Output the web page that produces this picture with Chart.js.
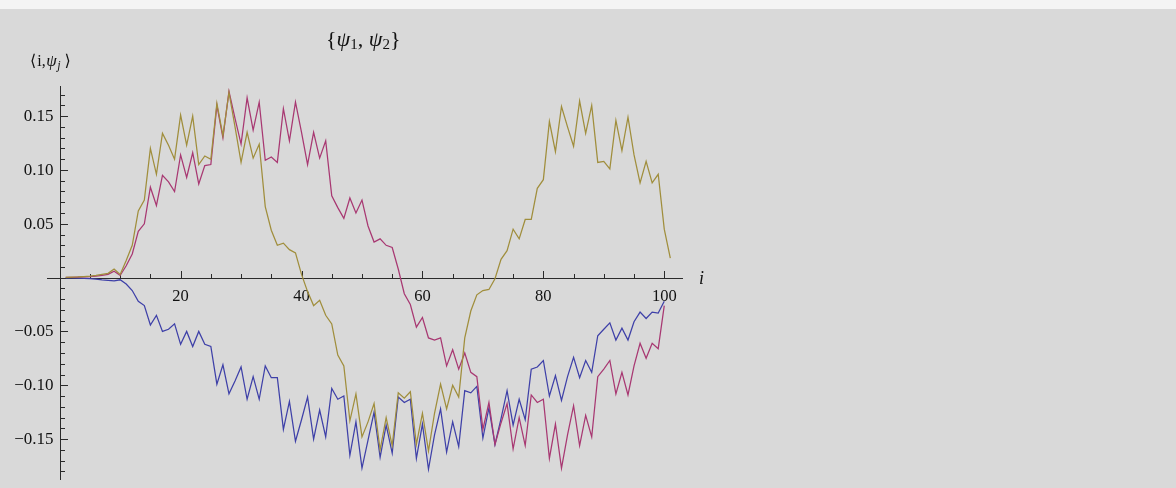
<!DOCTYPE html>
<html><head><meta charset="utf-8">
<script src="https://cdn.jsdelivr.net/npm/chart.js@4.4.1/dist/chart.umd.min.js"></script>
<style>html,body{margin:0;padding:0;background:#d9d9d9;overflow:hidden}canvas{display:block}</style>
</head><body>
<canvas id="c" width="1176" height="488"></canvas>
<script>
// ---- data (i = 1, 2, 3, ...) ----
const blueValues = [
 -0.0002,-0.0003,-0.0005,-0.0007,-0.001,-0.0013,-0.002,-0.0025,-0.003,-0.002,
 -0.006,-0.012,-0.022,-0.026,-0.044,-0.035,-0.050,-0.048,-0.043,-0.062,
 -0.050,-0.064,-0.050,-0.062,-0.064,-0.099,-0.081,-0.108,-0.096,-0.083,
 -0.113,-0.092,-0.113,-0.082,-0.093,-0.093,-0.141,-0.115,-0.152,-0.132,
 -0.111,-0.150,-0.123,-0.148,-0.103,-0.113,-0.110,-0.165,-0.134,-0.177,
 -0.151,-0.125,-0.167,-0.137,-0.163,-0.111,-0.116,-0.113,-0.168,-0.136,
 -0.178,-0.146,-0.122,-0.162,-0.134,-0.157,-0.105,-0.107,-0.101,-0.149,
 -0.121,-0.155,-0.131,-0.105,-0.137,-0.113,-0.132,-0.085,-0.083,-0.077,
 -0.110,-0.091,-0.114,-0.092,-0.074,-0.093,-0.077,-0.088,-0.054,-0.048,
 -0.042,-0.058,-0.047,-0.058,-0.041,-0.032,-0.038,-0.032,-0.033,-0.022];
const purpleValues = [
 0.0002,0.0003,0.0005,0.0008,0.001,0.0015,0.002,0.003,0.006,0.002,
 0.011,0.022,0.043,0.050,0.084,0.067,0.095,0.089,0.080,0.114,
 0.093,0.116,0.087,0.104,0.105,0.160,0.130,0.173,0.148,0.124,
 0.167,0.137,0.163,0.109,0.112,0.107,0.157,0.127,0.163,0.135,
 0.105,0.135,0.111,0.127,0.076,0.065,0.055,0.074,0.060,0.072,
 0.048,0.033,0.036,0.030,0.028,0.008,-0.015,-0.025,-0.046,-0.037,
 -0.056,-0.058,-0.056,-0.082,-0.067,-0.085,-0.070,-0.088,-0.092,-0.141,
 -0.116,-0.155,-0.135,-0.117,-0.159,-0.130,-0.156,-0.109,-0.116,-0.113,
 -0.168,-0.136,-0.177,-0.146,-0.119,-0.156,-0.128,-0.148,-0.092,-0.085,
 -0.077,-0.108,-0.088,-0.109,-0.082,-0.061,-0.075,-0.061,-0.066,-0.026];
const oliveValues = [
 0.0002,0.0004,0.0006,0.001,0.0013,0.002,0.003,0.004,0.008,0.003,
 0.016,0.030,0.062,0.072,0.120,0.096,0.134,0.123,0.110,0.151,
 0.123,0.150,0.105,0.113,0.110,0.162,0.132,0.172,0.140,0.107,
 0.135,0.111,0.124,0.066,0.044,0.030,0.032,0.026,0.023,0.003,
 -0.013,-0.026,-0.021,-0.035,-0.043,-0.072,-0.082,-0.133,-0.108,-0.148,
 -0.134,-0.117,-0.160,-0.130,-0.156,-0.107,-0.112,-0.106,-0.155,-0.126,
 -0.161,-0.126,-0.099,-0.122,-0.100,-0.111,-0.056,-0.031,-0.016,-0.012,
 -0.011,-0.001,0.017,0.025,0.045,0.036,0.054,0.054,0.083,0.091,
 0.145,0.117,0.159,0.140,0.122,0.164,0.134,0.160,0.107,0.108,
 0.101,0.146,0.118,0.149,0.114,0.088,0.108,0.088,0.096,0.045,
 0.018];

const xMajorTicks = [20, 40, 60, 80, 100];
const xTickLabels = ['20', '40', '60', '80', '100'];
const xMinorTicks = [5, 10, 15, 25, 30, 35, 45, 50, 55, 65, 70, 75, 85, 90, 95];
const yMajorTicks = [-0.15, -0.10, -0.05, 0.05, 0.10, 0.15];
const yTickLabels = ['\u22120.15', '\u22120.10', '\u22120.05', '0.05', '0.10', '0.15'];
const yMinorTicks = [-0.18,-0.17,-0.16,-0.14,-0.13,-0.12,-0.11,-0.09,-0.08,-0.07,-0.06,
  -0.04,-0.03,-0.02,-0.01,0.01,0.02,0.03,0.04,0.06,0.07,0.08,0.09,0.11,0.12,0.13,0.14,0.16,0.17];

const toPoints = arr => arr.map((v, k) => ({x: k + 1, y: v}));

const SERIF = '"Liberation Serif", "DejaVu Serif", serif';

function drawRich(c, parts, x, base) {
  let cx = x;
  parts.forEach(p => {
    c.font = p.font;
    cx += (p.pre || 0);
    c.fillText(p.t, cx, base + (p.dy || 0));
    cx += c.measureText(p.t).width + (p.kern || 0);
  });
}

const mmaAxes = {
  id: 'mmaAxes',
  beforeDraw(chart) {
    const c = chart.ctx;
    c.save();
    c.fillStyle = '#d9d9d9';
    c.fillRect(0, 0, chart.width, chart.height);
    c.fillStyle = '#f4f4f4';
    c.fillRect(0, 0, chart.width, 9);
    c.restore();
  },
  beforeDatasetsDraw(chart) {
    const c = chart.ctx, x = chart.scales.x, y = chart.scales.y, a = chart.chartArea;
    const x0 = Math.round(x.getPixelForValue(0)) + 0.5;
    const y0 = Math.round(y.getPixelForValue(0)) + 0.5;
    c.save();
    c.strokeStyle = '#2b2b2b';
    c.lineWidth = 1;
    c.beginPath();
    c.moveTo(a.left, y0); c.lineTo(a.right, y0);
    c.moveTo(x0, a.top); c.lineTo(x0, a.bottom);
    xMinorTicks.forEach(v => { const p = Math.round(x.getPixelForValue(v)) + 0.5; c.moveTo(p, y0); c.lineTo(p, y0 - 4.5); });
    xMajorTicks.forEach(v => { const p = Math.round(x.getPixelForValue(v)) + 0.5; c.moveTo(p, y0); c.lineTo(p, y0 - 7.5); });
    yMinorTicks.forEach(v => { const p = Math.round(y.getPixelForValue(v)) + 0.5; c.moveTo(x0, p); c.lineTo(x0 + 4.5, p); });
    yMajorTicks.forEach(v => { const p = Math.round(y.getPixelForValue(v)) + 0.5; c.moveTo(x0, p); c.lineTo(x0 + 7.5, p); });
    c.stroke();

    c.fillStyle = '#111';
    c.font = '16.5px ' + SERIF;
    c.textAlign = 'center';
    c.textBaseline = 'alphabetic';
    xMajorTicks.forEach((v, k) => c.fillText(xTickLabels[k], x.getPixelForValue(v), y0 + 22));
    c.font = '17px ' + SERIF;
    c.textAlign = 'right';
    c.textBaseline = 'middle';
    yMajorTicks.forEach((v, k) => c.fillText(yTickLabels[k], x0 - 7, y.getPixelForValue(v) + 0.5));

    c.textAlign = 'left';
    c.textBaseline = 'alphabetic';
    // x axis label
    c.font = 'italic 18px ' + SERIF;
    c.fillText('i', 699, y0 + 5);
    // y axis label
    drawRich(c, [
      {t: '\u27E8', font: '16px "DejaVu Serif", serif', kern: 1},
      {t: 'i,', font: '16px ' + SERIF, kern: 0.5},
      {t: '\u03C8', font: 'italic 17px ' + SERIF, kern: 0.5},
      {t: 'j', font: 'italic 12px ' + SERIF, dy: 3, kern: 4},
      {t: '\u27E9', font: '16px "DejaVu Serif", serif'}
    ], 30, 66);
    // title
    drawRich(c, [
      {t: '{', font: '22px ' + SERIF},
      {t: '\u03C8', font: 'italic 22px ' + SERIF},
      {t: '1', font: '15px ' + SERIF, dy: 3},
      {t: ', ', font: '22px ' + SERIF},
      {t: '\u03C8', font: 'italic 22px ' + SERIF},
      {t: '2', font: '15px ' + SERIF, dy: 3},
      {t: '}', font: '22px ' + SERIF}
    ], 326, 46);
    c.restore();
  }
};

new Chart(document.getElementById('c'), {
  type: 'line',
  data: {
    datasets: [
      {label: 'olive', data: toPoints(oliveValues), borderColor: '#a08e3c', borderWidth: 1.25, pointRadius: 0, tension: 0, fill: false},
      {label: 'purple', data: toPoints(purpleValues), borderColor: '#a83872', borderWidth: 1.25, pointRadius: 0, tension: 0, fill: false},
      {label: 'blue', data: toPoints(blueValues), borderColor: '#3e40a8', borderWidth: 1.25, pointRadius: 0, tension: 0, fill: false}
    ]
  },
  options: {
    responsive: false,
    animation: false,
    devicePixelRatio: 1,
    events: [],
    layout: {padding: {left: 47, right: 493, top: 86, bottom: 8}},
    plugins: {legend: {display: false}, title: {display: false}, tooltip: {enabled: false}},
    scales: {
      x: {type: 'linear', min: -2.1, max: 103.1, display: false},
      y: {type: 'linear', min: -0.188, max: 0.178, display: false}
    }
  },
  plugins: [mmaAxes]
});
</script>
</body></html>
